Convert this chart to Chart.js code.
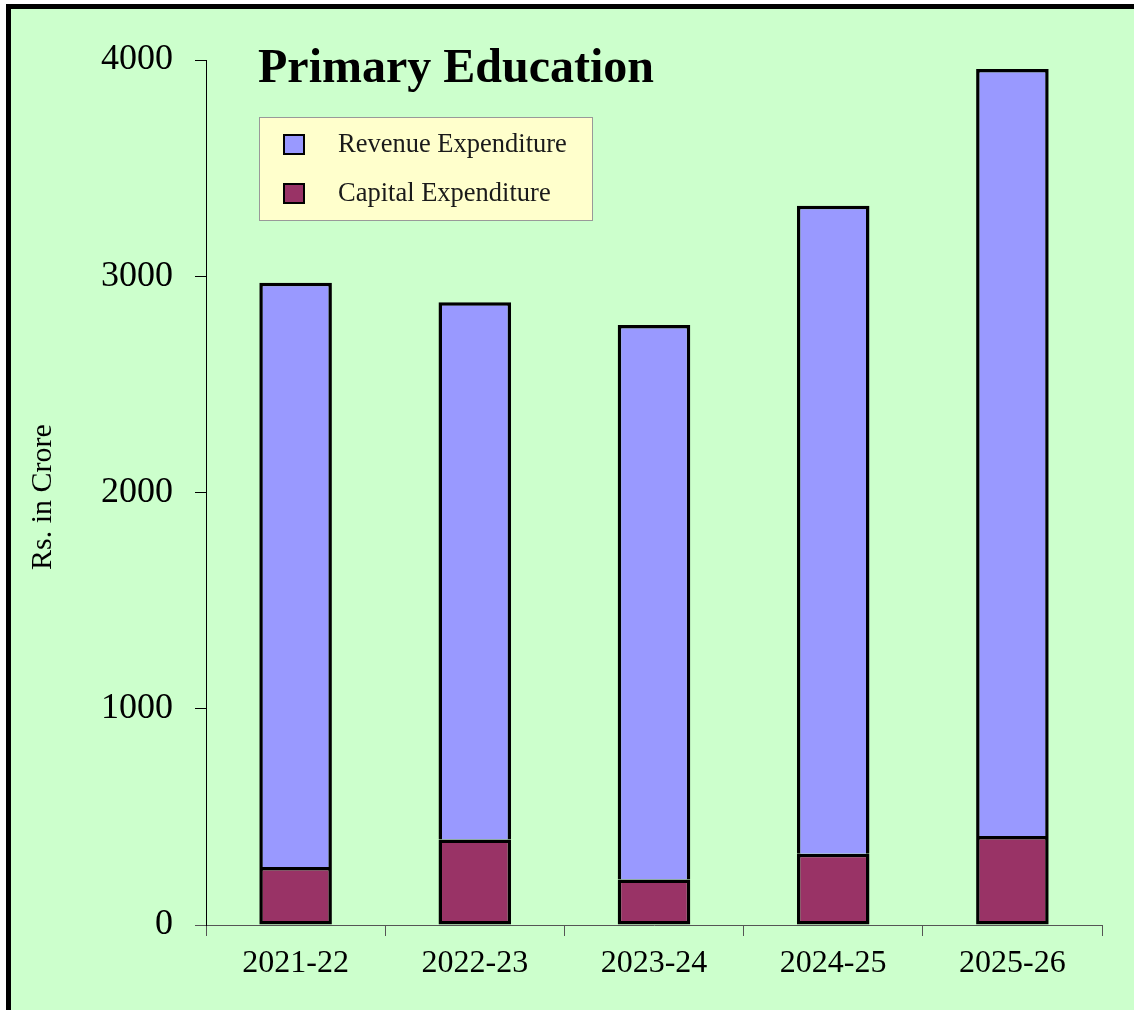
<!DOCTYPE html>
<html>
<head>
<meta charset="utf-8">
<title>Primary Education</title>
<script src="https://cdn.jsdelivr.net/npm/chart.js@4.4.1/dist/chart.umd.min.js"></script>
<style>
    html, body { margin: 0; padding: 0; background: #ffffff; }
    #wrap { position: absolute; left: 0; top: 0; width: 1134px; height: 1010px; }
</style>
</head>
<body>
<div id="wrap"><canvas id="eduChart" width="1134" height="1010"></canvas></div>
<script>
// data (Rs. in Crore)
const years = ["2021-22", "2022-23", "2023-24", "2024-25", "2025-26"];
const capitalExp = [268, 395, 210, 330, 412];
const revenueExp = [2702, 2485, 2565, 2996, 3546];
const yTicks = [0, 1000, 2000, 3000, 4000];

const chartTitle = "Primary Education";
const yTitle = "Rs. in Crore";
const serif = "'Liberation Serif', 'Times New Roman', serif";

// paints the page frame: white margin, green panel, black top/left rule
const framePlugin = {
    id: 'frame',
    beforeDraw(chart) {
        const ctx = chart.ctx;
        ctx.save();
        ctx.fillStyle = '#ffffff';
        ctx.fillRect(0, 0, chart.width, chart.height);
        ctx.fillStyle = '#CCFFCC';
        ctx.fillRect(11, 9, chart.width - 11, chart.height - 9);
        ctx.fillStyle = '#000000';
        ctx.fillRect(6, 4, chart.width - 6, 5);
        ctx.fillRect(6, 4, 5, chart.height - 4);
        ctx.restore();
    }
};

// title, y axis title and the boxed legend, drawn inside the plot like the original
const overlayPlugin = {
    id: 'overlay',
    afterDraw(chart) {
        const ctx = chart.ctx;
        ctx.save();
        // title
        ctx.fillStyle = '#000000';
        ctx.font = "bold 48px " + serif;
        ctx.textAlign = 'left';
        ctx.textBaseline = 'alphabetic';
        ctx.fillText(chartTitle, 258, 82);

        // y axis title
        ctx.save();
        ctx.translate(51, 497);
        ctx.rotate(-Math.PI / 2);
        ctx.font = "30px " + serif;
        ctx.textAlign = 'center';
        ctx.fillText(yTitle, 0, 0);
        ctx.restore();

        // legend box
        ctx.fillStyle = '#FFFFCC';
        ctx.fillRect(259, 117, 333, 103);
        ctx.strokeStyle = '#999999';
        ctx.lineWidth = 1;
        ctx.strokeRect(259.5, 117.5, 333, 103);

        const order = chart.data.datasets.slice().reverse();
        const rowTop = [134, 183];
        ctx.font = "26.5px " + serif;
        order.forEach((ds, i) => {
            ctx.fillStyle = ds.backgroundColor;
            ctx.fillRect(283, rowTop[i], 22, 21);
            ctx.strokeStyle = '#000000';
            ctx.lineWidth = 2;
            ctx.strokeRect(284, rowTop[i] + 1, 20, 19);
            ctx.fillStyle = '#1a1a1a';
            ctx.fillText(ds.label, 338, rowTop[i] + 18);
        });
        ctx.restore();
    }
};

const config = {
    type: 'bar',
    data: {
        labels: years,
        datasets: [
            {
                label: "Capital Expenditure",
                data: capitalExp,
                backgroundColor: '#993366',
                borderColor: '#000000',
                borderWidth: 3.5,
                borderSkipped: false
            },
            {
                label: "Revenue Expenditure",
                data: revenueExp,
                backgroundColor: '#9999FF',
                borderColor: '#000000',
                borderWidth: 3.5,
                borderSkipped: 'bottom'
            }
        ]
    },
    options: {
        responsive: false,
        animation: false,
        layout: { padding: { top: 60, right: 32, bottom: 0, left: 0 } },
        datasets: { bar: { barPercentage: 0.405, categoryPercentage: 1.0 } },
        plugins: {
            legend: { display: false },
            tooltip: { enabled: false }
        },
        scales: {
            x: {
                stacked: true,
                afterFit: (scale) => { scale.height = 85; },
                border: { display: true, color: '#555555', width: 1 },
                grid: { offset: true, drawOnChartArea: false, drawTicks: true, tickLength: 11, color: '#555555' },
                ticks: { color: '#000000', padding: 8, font: { family: serif, size: 32 } }
            },
            y: {
                stacked: true,
                min: 0,
                max: 4000,
                afterFit: (scale) => { scale.width = 206; },
                afterBuildTicks: (scale) => { scale.ticks = yTicks.map(v => ({ value: v })); },
                border: { display: true, color: '#000000', width: 1 },
                grid: {
                    drawOnChartArea: false,
                    drawTicks: true,
                    tickLength: 11,
                    color: (ctx) => ctx.tick && ctx.tick.value === 0 ? '#555555' : '#000000'
                },
                ticks: {
                    color: '#000000',
                    padding: 22,
                    font: { family: serif, size: 36 },
                    callback: (v) => String(v)
                }
            }
        }
    },
    plugins: [framePlugin, overlayPlugin]
};

new Chart("eduChart", config);
</script>
</body>
</html>
